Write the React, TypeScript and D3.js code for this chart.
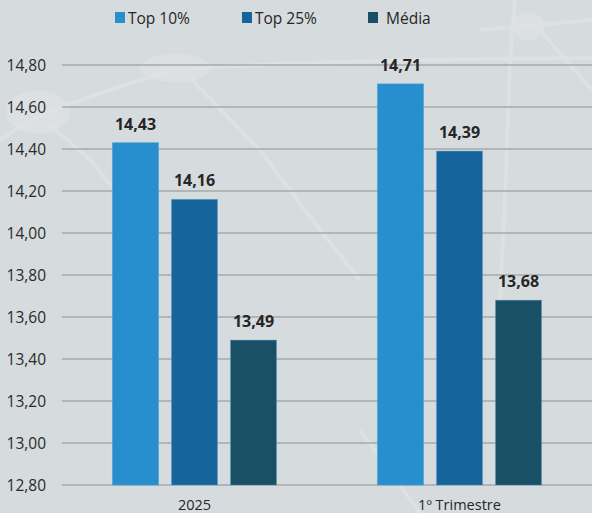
import React from "react";
import * as d3 from "d3";

const categories = ["2025", "1º Trimestre"];
const seriesNames = ["Top 10%", "Top 25%", "Média"];
const top10 = [14.43, 14.71];
const top25 = [14.16, 14.39];
const media = [13.49, 13.68];
const yTicks = [12.8, 13.0, 13.2, 13.4, 13.6, 13.8, 14.0, 14.2, 14.4, 14.6, 14.8];
const colors = ["#278fcd", "#15649c", "#1a5065"];

const W = 592;
const H = 513;
const fmt = (v: number) => v.toFixed(2).replace(".", ",");

export default function App() {
  const seriesValues = [top10, top25, media];
  const y = d3.scaleLinear().domain([12.8, 14.8]).range([485, 65]);
  const x0 = d3.scaleBand<string>().domain(categories).range([62, 592]).padding(0);
  const x1 = d3
    .scaleBand<string>()
    .domain(seriesNames)
    .range([0, x0.bandwidth()])
    .paddingInner(0.22)
    .paddingOuter(0.855);

  const legendX = [115, 242, 368];
  const legendTextX = [128, 255, 386];
  const font = "'Open Sans', 'Noto Sans', sans-serif";

  return (
    <svg
      width={W}
      height={H}
      style={{ position: "absolute", left: 0, top: 0, display: "block" }}
      fontFamily={font}
    >
      <rect x={0} y={0} width={W} height={H} fill="#d6dbde" />
      {/* faint decorative background network */}
      <g fill="none" stroke="#e3e7e9" strokeWidth={4} opacity={0.55}>
        <path d="M0,140 Q30,120 60,108 Q120,85 175,70 Q300,60 592,58" />
        <path d="M50,125 L90,160 L140,220" />
        <path d="M190,78 L260,150 L320,230 L360,280" />
        <path d="M515,0 L510,60 L505,200 L500,300" />
        <path d="M480,30 L592,20" />
        <path d="M540,30 L592,90" />
        <path d="M360,430 L420,513" />
      </g>
      <g fill="#dfe3e5" opacity={0.7}>
        <ellipse cx={38} cy={112} rx={32} ry={22} />
        <ellipse cx={175} cy={68} rx={35} ry={14} />
        <ellipse cx={528} cy={26} rx={16} ry={14} />
      </g>

      {/* gridlines */}
      {yTicks.map((t) => (
        <g key={t}>
          <line x1={62} x2={592} y1={y(t)} y2={y(t)} stroke="#a6aaad" strokeWidth={1.5} />
          <text
            x={46}
            y={y(t)}
            dy="0.36em"
            textAnchor="end"
            fontSize={15.5}
            fill="#2a2a2a"
          >
            {fmt(t)}
          </text>
        </g>
      ))}

      {/* bars */}
      {categories.map((c, ci) => (
        <g key={c} transform={`translate(${x0(c)},0)`}>
          {seriesNames.map((s, si) => {
            const v = seriesValues[si][ci];
            const bx = x1(s) as number;
            return (
              <g key={s}>
                <rect
                  x={bx}
                  y={y(v)}
                  width={x1.bandwidth()}
                  height={y(12.8) - y(v)}
                  fill={colors[si]}
                  stroke="#4a9fd4"
                  strokeOpacity={si === 0 ? 0.6 : 0.35}
                  strokeWidth={1}
                />
                <text
                  x={bx + x1.bandwidth() / 2}
                  y={y(v) - 13}
                  textAnchor="middle"
                  fontSize={16}
                  fontWeight={700}
                  fill="#262626"
                >
                  {fmt(v)}
                </text>
              </g>
            );
          })}
          <text
            x={x0.bandwidth() / 2}
            y={510}
            textAnchor="middle"
            fontSize={14.5}
            fill="#262626"
          >
            {c}
          </text>
        </g>
      ))}

      {/* legend */}
      {seriesNames.map((s, i) => (
        <g key={s}>
          <rect x={legendX[i]} y={12} width={10} height={11} fill={colors[i]} />
          <text x={legendTextX[i]} y={23.5} fontSize={15.5} fill="#262626">
            {s}
          </text>
        </g>
      ))}
    </svg>
  );
}
